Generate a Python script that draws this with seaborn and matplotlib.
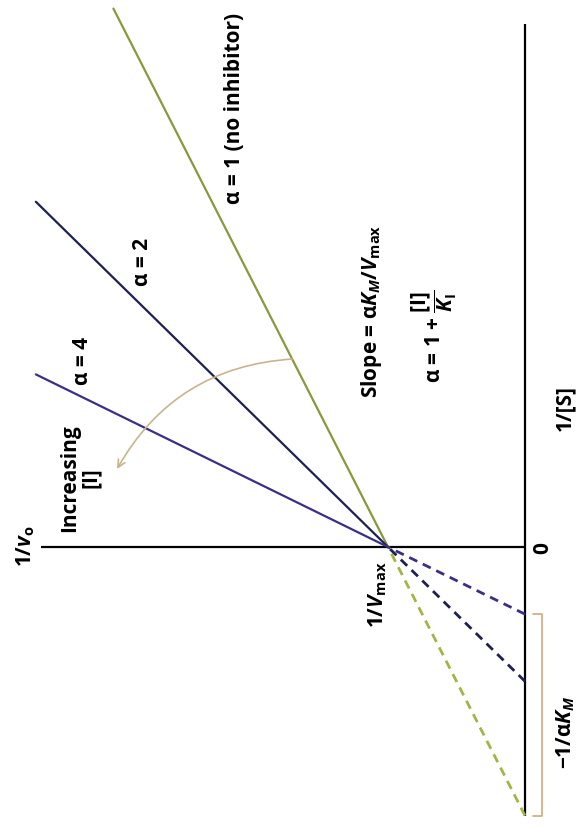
import matplotlib
matplotlib.use("Agg")
import matplotlib.pyplot as plt
import seaborn as sns
import numpy as np
import pandas as pd

# ---- data (Lineweaver-Burk, mixed units: Vmax = 1) ----
alphas = [1, 2, 4]
alpha_labels = ["α = 1 (no inhibitor)", "α = 2", "α = 4"]
line_colors = ["#86993c", "#1c2152", "#3a2e86"]
dash_colors = ["#a3b447", "#1c2152", "#3a2e86"]
Km = 0.51
Vmax = 1.0
inv_s_end = [3.93, 2.52, 1.26]      # extent of solid lines along 1/[S]
inv_v_axis_end = 3.53               # extent of 1/v axis
inv_s_axis_end = 3.82               # extent of 1/[S] axis

sns.set_theme(style="white")
plt.rcParams['font.family'] = ['Open Sans', 'DejaVu Sans']
plt.rcParams['font.weight'] = 'bold'
plt.rcParams['mathtext.fontset'] = 'custom'
plt.rcParams['mathtext.rm'] = 'Open Sans:bold'
plt.rcParams['mathtext.it'] = 'Open Sans:italic:bold'
plt.rcParams['mathtext.bf'] = 'Open Sans:bold'

S = 137.0  # px per unit (only used for view limits)
fig = plt.figure(figsize=(5.81, 8.28), dpi=100)
ax = fig.add_axes([0, 0, 1, 1])
ax.set_xlim(525 / S, -56 / S)
ax.set_ylim(-280 / S, 548 / S)
ax.axis('off')

# axes of the plot
ax.plot([0, inv_v_axis_end], [0, 0], color='black', lw=1.6, solid_capstyle='butt')
ax.plot([0, 0], [-1 / Km, inv_s_axis_end], color='black', lw=1.6, solid_capstyle='butt')

for a, send, c, dc in zip(alphas, inv_s_end, line_colors, dash_colors):
    slope = a * Km / Vmax
    s_solid = np.array([0.0, send])
    df = pd.DataFrame({"inv_v": 1 / Vmax + slope * s_solid, "inv_s": s_solid})
    sns.lineplot(data=df, x="inv_v", y="inv_s", color=c, lw=1.6, ax=ax,
                 sort=False, estimator=None)
    s_dash = np.array([-1 / (a * Km), 0.0])
    dfd = pd.DataFrame({"inv_v": 1 / Vmax + slope * s_dash, "inv_s": s_dash})
    sns.lineplot(data=dfd, x="inv_v", y="inv_s", color=dc, lw=2.0, ax=ax,
                 sort=False, estimator=None, linestyle=(0, (3.2, 2.2)))
ax.set_xlabel("")
ax.set_ylabel("")
ax.set_xlim(525 / S, -56 / S)
ax.set_ylim(-280 / S, 548 / S)

# bracket for -1/alpha Km
bx, btick = -0.124, -0.058
b_lo, b_hi = -1 / (alphas[0] * Km), -1 / (alphas[-1] * Km)
ax.plot([btick, bx, bx, btick], [b_lo, b_lo, b_hi, b_hi], color='#d6a878', lw=1.2)

# arc arrow "Increasing [I]"
s_start = 1.372
ax.annotate("", xy=(2.978, 0.569), xytext=(1 + Km * s_start, s_start),
            arrowprops=dict(arrowstyle='->,head_length=0.45,head_width=0.22',
                            color='#c8b48e', lw=1.2,
                            connectionstyle='arc3,rad=0.27', shrinkA=0, shrinkB=0))

def px(x, y):
    return ((525 - x) / S, (548 - y) / S)

fs = 15
txt = dict(rotation=90, ha='center', va='center', fontsize=fs, fontweight='bold',
           color='black')
ax.text(*px(234, 108), alpha_labels[0], **txt)
ax.text(*px(143, 262), alpha_labels[1], **txt)
ax.text(*px(82, 361), alpha_labels[2], **txt)
ax.text(*px(372, 311), r"Slope = α$K_M$/$V_{\mathrm{max}}$", **txt)
ax.text(*px(434, 336), r"α = 1 + $\dfrac{[\mathrm{I}]}{K_\mathrm{I}}$", **txt)
ax.text(*px(80, 478), "Increasing\n[I]", linespacing=1.0, **txt)
ax.text(*px(26, 546), r"1/$v_\mathrm{o}$", **txt)
ax.text(*px(378, 595), r"1/$V_{\mathrm{max}}$", **txt)
ax.text(*px(543, 548), "0", **txt)
ax.text(*px(565, 408), "1/[S]", **txt)
ax.text(*px(566, 732), r"−1/α$K_M$", **txt)

fig.savefig("out.png", dpi=100)
